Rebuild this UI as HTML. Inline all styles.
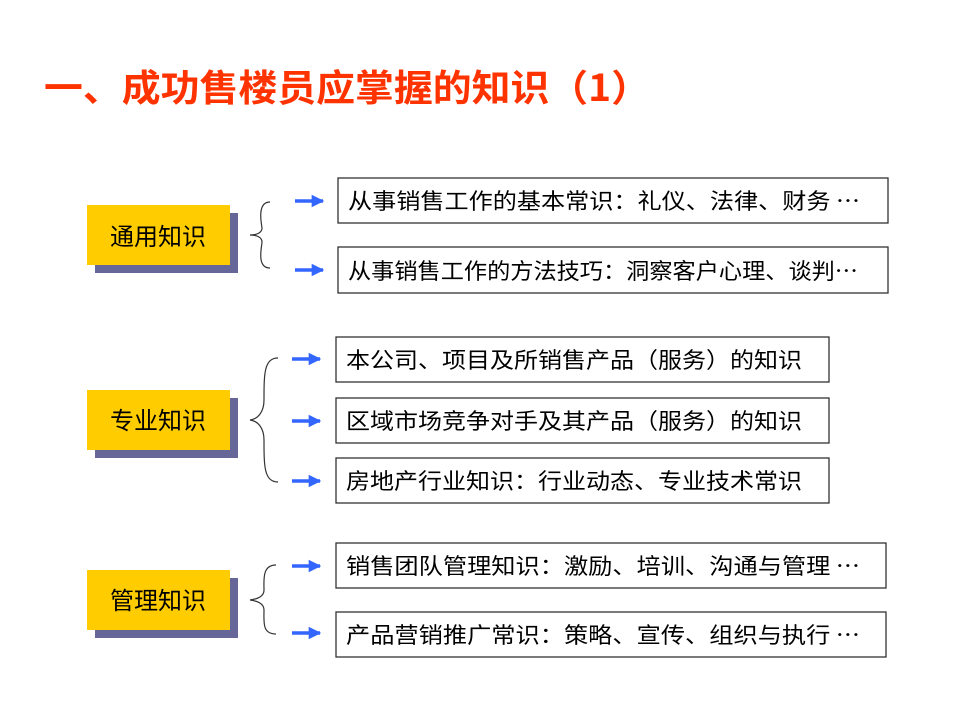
<!DOCTYPE html>
<html><head><meta charset="utf-8"><style>
html,body{margin:0;padding:0;background:#fff;}
svg{display:block}
text{font-family:"Noto Sans CJK SC","Liberation Sans",sans-serif;}
</style></head><body>
<svg width="960" height="720" viewBox="0 0 960 720" xmlns="http://www.w3.org/2000/svg">
<defs>
<marker id="ah" viewBox="0 0 10 10" refX="9" refY="5" markerWidth="3.6" markerHeight="3.6" orient="auto"><path d="M0,0 L10,5 L0,10 z" fill="#3366FF"/></marker>
</defs>
<text x="44" y="101" font-size="37" font-weight="bold" fill="#FF3300" textLength="606" lengthAdjust="spacingAndGlyphs">一、成功售楼员应掌握的知识（1）</text>

<g>
<rect x="95" y="213" width="143" height="60" fill="#666699"/>
<rect x="87" y="205" width="143" height="60" fill="#FFCC00"/>
<text x="158" y="245" font-size="24" text-anchor="middle" fill="#000">通用知识</text>
<path d="M270,202 C256,202 262,226 262,228 C262,232 258,235 250,235 C258,235 262,238 262,242 C262,246 256,268 270,268" fill="none" stroke="#333" stroke-width="1.2"/>
</g>
<g>
<rect x="95" y="398" width="143" height="60" fill="#666699"/>
<rect x="87" y="390" width="143" height="60" fill="#FFCC00"/>
<text x="158" y="429" font-size="24" text-anchor="middle" fill="#000">专业知识</text>
<path d="M278,358 C264,358 264,374 264,400 C264,412 258,419 250,420 C258,421 264,428 264,440 C264,466 264,482 278,482" fill="none" stroke="#333" stroke-width="1.2"/>
</g>
<g>
<rect x="95" y="578" width="143" height="60" fill="#666699"/>
<rect x="87" y="570" width="143" height="60" fill="#FFCC00"/>
<text x="158" y="609" font-size="24" text-anchor="middle" fill="#000">管理知识</text>
<path d="M276,565 C262,565 264,580 264,590 C264,596 258,599 250,600 C258,601 264,604 264,610 C264,622 262,634 276,634" fill="none" stroke="#333" stroke-width="1.2"/>
</g>

<g stroke="#3366FF" stroke-width="3.5" marker-end="url(#ah)">
<line x1="295" y1="201" x2="323" y2="201"/>
<line x1="295" y1="270" x2="323" y2="270"/>
<line x1="292" y1="359" x2="320" y2="359"/>
<line x1="292" y1="421" x2="320" y2="421"/>
<line x1="292" y1="481" x2="320" y2="481"/>
<line x1="292" y1="566" x2="320" y2="566"/>
<line x1="292" y1="633" x2="320" y2="633"/>
</g>

<g fill="#fff" stroke="#333" stroke-width="1.3">
<rect x="338" y="178" width="550" height="45"/>
<rect x="338" y="247" width="550" height="46"/>
<rect x="336" y="337" width="493" height="45"/>
<rect x="336" y="398" width="493" height="45"/>
<rect x="336" y="458" width="493" height="45"/>
<rect x="336" y="543" width="550" height="45"/>
<rect x="336" y="612" width="550" height="45"/>
</g>
<g font-size="22" fill="#000" lengthAdjust="spacingAndGlyphs">
<text x="348" y="209" textLength="512" lengthAdjust="spacingAndGlyphs">从事销售工作的基本常识：礼仪、法律、财务 …</text>
<text x="348" y="279" textLength="510" lengthAdjust="spacingAndGlyphs">从事销售工作的方法技巧：洞察客户心理、谈判…</text>
<text x="346" y="368" textLength="456" lengthAdjust="spacingAndGlyphs">本公司、项目及所销售产品（服务）的知识</text>
<text x="346" y="429" textLength="456" lengthAdjust="spacingAndGlyphs">区域市场竞争对手及其产品（服务）的知识</text>
<text x="346" y="489" textLength="456" lengthAdjust="spacingAndGlyphs">房地产行业知识：行业动态、专业技术常识</text>
<text x="346" y="574" textLength="514" lengthAdjust="spacingAndGlyphs">销售团队管理知识：激励、培训、沟通与管理 …</text>
<text x="346" y="643" textLength="514" lengthAdjust="spacingAndGlyphs">产品营销推广常识：策略、宣传、组织与执行 …</text>
</g>
</svg>
</body></html>
